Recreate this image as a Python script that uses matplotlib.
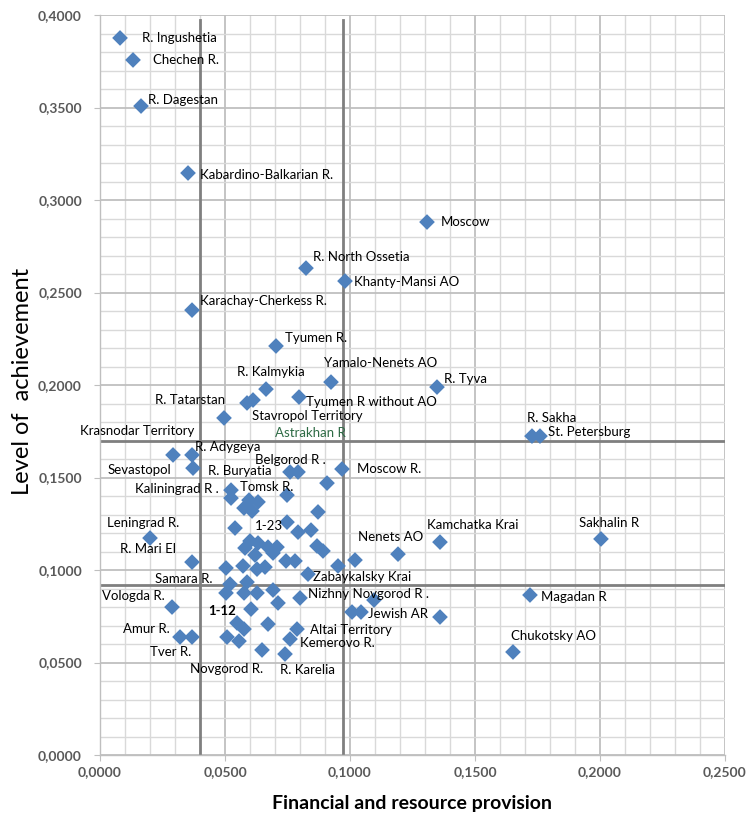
import matplotlib
matplotlib.use("Agg")
import matplotlib.pyplot as plt
from matplotlib.ticker import MultipleLocator, FuncFormatter

plt.rcParams['font.family'] = ['Lato', 'DejaVu Sans']

# Region coordinates: financial and resource provision (x), level of achievement (y)
provision = [
    0.0080, 0.0132, 0.0164, 0.0352, 0.1308, 0.0824, 0.0980, 0.0368, 0.0704, 0.0924,
    0.1348, 0.0664, 0.0612, 0.0588, 0.0796, 0.0496, 0.1728, 0.1760, 0.0292, 0.0368,
    0.0372, 0.0968, 0.0760, 0.0792, 0.0908, 0.0524, 0.0524, 0.0748, 0.0596, 0.0632,
    0.0576, 0.0608, 0.0872, 0.0748, 0.0540, 0.0792, 0.0844, 0.0200, 0.0600, 0.0632,
    0.0580, 0.0672, 0.0708, 0.0868, 0.0892, 0.0620, 0.0692, 0.0744, 0.0780, 0.0952,
    0.1020, 0.1192, 0.1360, 0.2004, 0.0368, 0.0504, 0.0572, 0.0628, 0.0660, 0.0832,
    0.0520, 0.0588, 0.0504, 0.0576, 0.0628, 0.0692, 0.0712, 0.0800, 0.1096, 0.0288,
    0.0604, 0.1008, 0.1044, 0.1360, 0.1720, 0.0672, 0.0548, 0.0576, 0.0508, 0.0556,
    0.0788, 0.0760, 0.0320, 0.0368, 0.0648, 0.0740, 0.1652,
]
achievement = [
    0.3876, 0.3757, 0.3508, 0.3146, 0.2881, 0.2632, 0.2562, 0.2405, 0.2211, 0.2016,
    0.1989, 0.1978, 0.1919, 0.1903, 0.1935, 0.1822, 0.1724, 0.1724, 0.1622, 0.1622,
    0.1551, 0.1546, 0.1530, 0.1530, 0.1470, 0.1432, 0.1389, 0.1405, 0.1378, 0.1368,
    0.1335, 0.1319, 0.1314, 0.1259, 0.1227, 0.1205, 0.1216, 0.1173, 0.1157, 0.1146,
    0.1119, 0.1124, 0.1124, 0.1130, 0.1103, 0.1081, 0.1092, 0.1049, 0.1049, 0.1022,
    0.1054, 0.1086, 0.1151, 0.1168, 0.1043, 0.1011, 0.1022, 0.1005, 0.1016, 0.0978,
    0.0924, 0.0935, 0.0876, 0.0876, 0.0876, 0.0892, 0.0822, 0.0849, 0.0838, 0.0800,
    0.0789, 0.0773, 0.0773, 0.0746, 0.0865, 0.0708, 0.0714, 0.0681, 0.0638, 0.0616,
    0.0681, 0.0627, 0.0638, 0.0638, 0.0568, 0.0546, 0.0557,
]

# Region names and where their captions sit (left edge, vertical centre)
label_text = [
    "R. Ingushetia", "Chechen R.", "R. Dagestan", "Kabardino-Balkarian R.", "Moscow",
    "R. North Ossetia", "Khanty-Mansi AO", "Karachay-Cherkess R.", "Tyumen R.",
    "Yamalo-Nenets AO", "R. Tyva", "R. Kalmykia", "R. Tatarstan", "Tyumen R without AO",
    "Stavropol Territory", "Krasnodar Territory", "R. Sakha", "St. Petersburg",
    "R. Adygeya", "Belgorod R .", "Sevastopol", "R. Buryatia", "Moscow R.",
    "Kaliningrad R .", "Tomsk R.", "Leningrad R.", "1-23", "Nenets AO", "Kamchatka Krai",
    "Sakhalin R", "R. Mari El", "Samara R.", "Zabaykalsky Krai", "Nizhny Novgorod R .",
    "Vologda R.", "Magadan R", "1-12", "Jewish AR", "Amur R.", "Altai Territory",
    "Kemerovo R.", "Chukotsky AO", "Tver R.", "Novgorod R.", "R. Karelia",
]
label_x = [
    0.0168, 0.0212, 0.0192, 0.0400, 0.1364, 0.0852, 0.1016, 0.0400, 0.0740, 0.0896,
    0.1376, 0.0548, 0.0220, 0.0824, 0.0608, -0.0080, 0.1708, 0.1792, 0.0380, 0.0620,
    0.0032, 0.0432, 0.1028, 0.0140, 0.0560, 0.0028, 0.0620, 0.1032, 0.1308, 0.1916,
    0.0080, 0.0220, 0.0852, 0.0832, 0.0008, 0.1764, 0.0432, 0.1072, 0.0092, 0.0840,
    0.0800, 0.1644, 0.0200, 0.0360, 0.0720,
]
label_y = [
    0.3876, 0.3757, 0.3541, 0.3135, 0.2881, 0.2692, 0.2557, 0.2454, 0.2254, 0.2119,
    0.2032, 0.2070, 0.1919, 0.1908, 0.1832, 0.1751, 0.1822, 0.1746, 0.1665, 0.1595,
    0.1541, 0.1535, 0.1546, 0.1438, 0.1449, 0.1254, 0.1238, 0.1178, 0.1243, 0.1254,
    0.1114, 0.0951, 0.0962, 0.0870, 0.0859, 0.0854, 0.0778, 0.0762, 0.0681, 0.0676,
    0.0605, 0.0643, 0.0557, 0.0465, 0.0459,
]
extra_label = ("Astrakhan R", 0.0700, 0.1741)

# Group boundaries
x_bounds = [0.040, 0.097]
y_bounds = [0.170, 0.092]

fig = plt.figure(figsize=(7.47, 8.25), dpi=100)
ax = fig.add_axes([0.1339, 0.0848, 0.8366, 0.897])

ax.set_xlim(0, 0.25)
ax.set_ylim(0, 0.4)

ax.xaxis.set_major_locator(MultipleLocator(0.05))
ax.xaxis.set_minor_locator(MultipleLocator(0.01))
ax.yaxis.set_major_locator(MultipleLocator(0.05))
ax.yaxis.set_minor_locator(MultipleLocator(0.01))

ax.grid(which='minor', color='#D9D9D9', linewidth=1.0, zorder=0)
ax.grid(which='major', color='#BFBFBF', linewidth=1.3, zorder=0)
ax.set_axisbelow(True)

for xb in x_bounds:
    ax.axvline(xb, ymin=0, ymax=0.993, color='#7F7F7F', linewidth=2.0, zorder=1)
for yb in y_bounds:
    ax.axhline(yb, color='#7F7F7F', linewidth=2.0, zorder=1)

ax.scatter(provision, achievement, marker='D', s=64, color='#4F81BD',
           edgecolors='none', zorder=3)

for t, lx, ly in zip(label_text, label_x, label_y):
    ax.text(lx, ly, t, fontsize=9.5, ha='left', va='center', color='#000000',
            fontweight='bold' if t == "1-12" else 'normal', zorder=4, clip_on=False)
ax.text(extra_label[1], extra_label[2], extra_label[0], fontsize=9.5, ha='left',
        va='center', color='#2E6B45', zorder=4)

for side in ('top', 'right'):
    ax.spines[side].set_visible(False)
for side in ('left', 'bottom'):
    ax.spines[side].set_color('#BFBFBF')
    ax.spines[side].set_linewidth(1.0)

fmt = FuncFormatter(lambda v, p: f"{v:.4f}".replace('.', ','))
ax.xaxis.set_major_formatter(fmt)
ax.yaxis.set_major_formatter(fmt)
ax.tick_params(which='major', length=4, color='#BFBFBF', labelsize=10,
               labelcolor='#595959')
ax.tick_params(which='minor', length=0)
for lab in ax.get_xticklabels() + ax.get_yticklabels():
    lab.set_fontweight('bold')
ax.tick_params(axis='x', pad=4)
ax.tick_params(axis='y', pad=9)

ax.set_xlabel("Financial and resource provision", fontsize=14, fontweight='bold',
              labelpad=12)
ax.set_ylabel("Level of  achievement", fontsize=17)
ax.yaxis.set_label_coords(-0.108, 0.505)

fig.savefig("out.png", dpi=100)
